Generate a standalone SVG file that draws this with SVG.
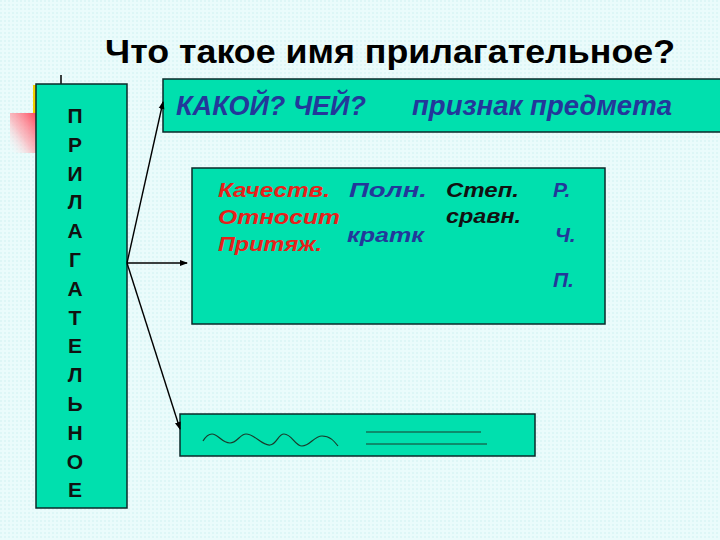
<svg xmlns="http://www.w3.org/2000/svg" width="720" height="540" viewBox="0 0 720 540">
<defs>
<pattern id="bgp" width="4" height="4" patternUnits="userSpaceOnUse">
<rect width="4" height="4" fill="#EAFBFB"/>
<rect width="2" height="2" fill="#DDF6F6"/>
</pattern>
<linearGradient id="redg" x1="1" y1="0" x2="0" y2="1">
<stop offset="0" stop-color="#FF4458"/>
<stop offset="0.55" stop-color="#FFA8B0" stop-opacity="0.7"/>
<stop offset="1" stop-color="#FFFFFF" stop-opacity="0"/>
</linearGradient>
<linearGradient id="grayg" x1="0" y1="0" x2="1" y2="0">
<stop offset="0" stop-color="#505050"/>
<stop offset="0.6" stop-color="#8A7C7C"/>
<stop offset="1" stop-color="#F0C8C8" stop-opacity="0"/>
</linearGradient>
<marker id="ah" markerWidth="8" markerHeight="8" refX="7" refY="4" orient="auto" markerUnits="userSpaceOnUse">
<path d="M0,1 L8,4 L0,7 Z" fill="#000"/>
</marker>
<style>
.box{fill:#00E0AE;stroke:#0A2A2A;stroke-width:1.5}
.title{font-family:"Liberation Sans Narrow","Liberation Sans",Arial,sans-serif;font-weight:bold;font-size:33px;fill:#000}
.vl{font-family:"Liberation Sans",Arial,sans-serif;font-weight:bold;font-size:21px;fill:#111;text-anchor:middle}
.q{font-family:"Liberation Sans",Arial,sans-serif;font-weight:bold;font-style:italic;font-size:27px;fill:#23389A}
.t{font-family:"Liberation Sans",Arial,sans-serif;font-weight:bold;font-style:italic;font-size:21px}
.red{fill:#E8201A}
.blue{fill:#23389A}
.blk{fill:#111}
.conn{stroke:#000;stroke-width:1.4;fill:none;marker-end:url(#ah)}
</style>
</defs>
<rect width="720" height="540" fill="url(#bgp)"/>

<g id="decor">
<rect x="10" y="113" width="27" height="40" fill="url(#redg)"/>
<rect x="33" y="85" width="4" height="28" fill="#F2D000"/>
<line x1="61" y1="75" x2="61" y2="84" stroke="#000" stroke-width="1.5"/>
<line x1="127" y1="141" x2="700" y2="141" stroke="url(#grayg)" stroke-width="3"/>
</g>

<text class="title" x="105" y="63" textLength="570" lengthAdjust="spacingAndGlyphs">Что такое имя прилагательное?</text>

<g id="node-left">
<rect class="box" x="36" y="84" width="91" height="424"/>
<text class="vl" x="75" y="123">П</text>
<text class="vl" x="75" y="152">Р</text>
<text class="vl" x="75" y="181">И</text>
<text class="vl" x="75" y="209">Л</text>
<text class="vl" x="75" y="238">А</text>
<text class="vl" x="75" y="267">Г</text>
<text class="vl" x="75" y="296">А</text>
<text class="vl" x="75" y="325">Т</text>
<text class="vl" x="75" y="353">Е</text>
<text class="vl" x="75" y="382">Л</text>
<text class="vl" x="75" y="411">Ь</text>
<text class="vl" x="75" y="440">Н</text>
<text class="vl" x="75" y="469">О</text>
<text class="vl" x="75" y="497">Е</text>
</g>

<g id="node-top">
<rect class="box" x="163" y="79" width="560" height="53"/>
<text class="q" x="176" y="115" textLength="190" lengthAdjust="spacingAndGlyphs">КАКОЙ? ЧЕЙ?</text>
<text class="q" x="412" y="115" textLength="260" lengthAdjust="spacingAndGlyphs">признак предмета</text>
</g>

<g id="node-middle">
<rect class="box" x="192" y="168" width="413" height="156"/>
<text class="t red" x="218" y="197" textLength="112" lengthAdjust="spacingAndGlyphs">Качеств.</text>
<text class="t red" x="218" y="224" textLength="122" lengthAdjust="spacingAndGlyphs">Относит</text>
<text class="t red" x="218" y="251" textLength="104" lengthAdjust="spacingAndGlyphs">Притяж.</text>
<text class="t blue" x="349" y="197" textLength="78" lengthAdjust="spacingAndGlyphs">Полн.</text>
<text class="t blue" x="347" y="242" textLength="77" lengthAdjust="spacingAndGlyphs">кратк</text>
<text class="t blk" x="446" y="197" textLength="73" lengthAdjust="spacingAndGlyphs">Степ.</text>
<text class="t blk" x="446" y="223" textLength="75" lengthAdjust="spacingAndGlyphs">сравн.</text>
<text class="t blue" x="553" y="197">Р.</text>
<text class="t blue" x="555" y="242">Ч.</text>
<text class="t blue" x="553" y="287">П.</text>
</g>

<g id="node-bottom">
<rect class="box" x="180" y="414" width="355" height="42"/>
<path d="M203,441 C206,436 208,434 212,434 C218,434 222,443 230,443 C237,443 240,434 246,434 C255,434 262,446 270,445 C277,444 278,434 284,434 C292,434 295,446 302,446 C310,446 314,436 322,436 C330,436 334,441 338,446" fill="none" stroke="#1A3A2A" stroke-width="1.2"/>
<line x1="366" y1="432" x2="481" y2="432" stroke="#1A3A2A" stroke-width="1.2"/>
<line x1="366" y1="444" x2="487" y2="444" stroke="#1A3A2A" stroke-width="1.2"/>
</g>

<g id="connectors">
<line class="conn" x1="127" y1="263" x2="163" y2="102"/>
<line class="conn" x1="127" y1="263" x2="187" y2="263"/>
<line class="conn" x1="127" y1="263" x2="180" y2="429"/>
</g>
</svg>
